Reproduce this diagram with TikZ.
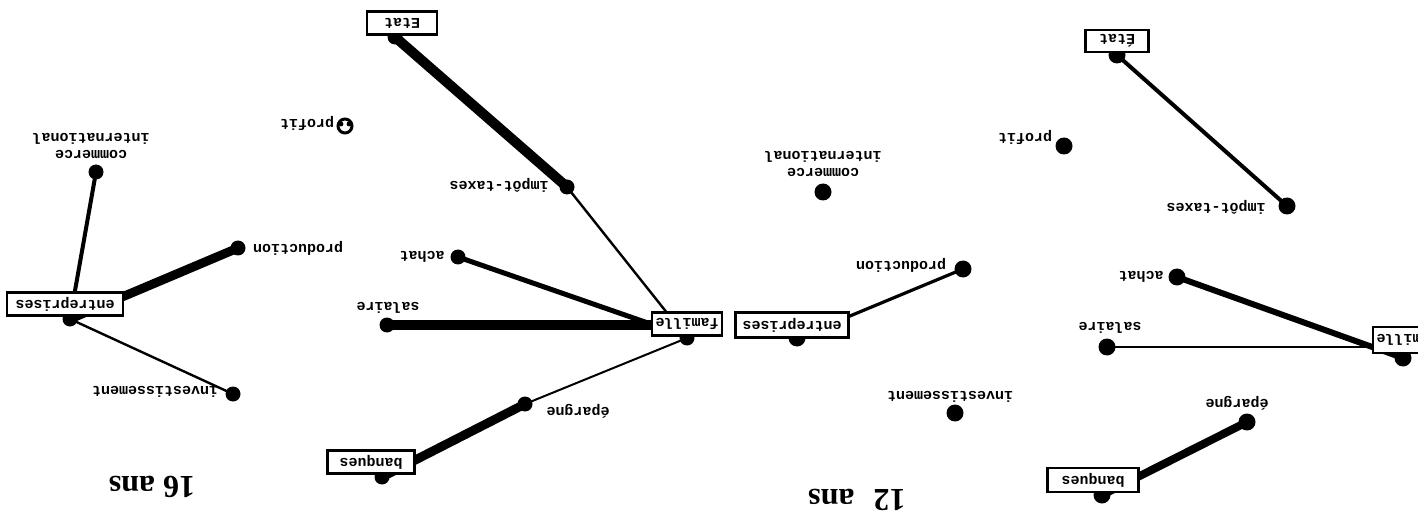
\documentclass[tikz,border=0pt]{standalone}
\usepackage{fontspec}
\setmainfont{Liberation Serif}
\setmonofont{Liberation Mono}
\usepackage{graphicx}
\usetikzlibrary{backgrounds}
\begin{document}
\begin{tikzpicture}[x=0.5pt,y=-0.5pt,
  dot/.style={circle,fill=black,inner sep=0pt,minimum size=7.5pt},
  bigdot/.style={circle,fill=black,inner sep=0pt,minimum size=8.5pt},
  box/.style={draw,line width=1.2pt,fill=white,inner sep=0pt,minimum height=11.5pt,
    font=\ttfamily\bfseries\fontsize{7.5}{8}\selectfont},
  lab/.style={rotate=180,inner sep=0pt,align=center,
    font=\ttfamily\bfseries\fontsize{7.5}{8.5}\selectfont},
  agelabel/.style={rotate=180,inner sep=0pt,font=\bfseries\fontsize{16}{17}\selectfont},
  link/.style={line width=#1},
]
\useasboundingbox (0,0) rectangle (1418,529);
\clip (0,0) rectangle (1418,529);

% ---------------- 16 ans ----------------
\node[dot] (etatDa) at (395,37) {};
\node[dot] (impDa)  at (567,187) {};
\node[dot] (achDa)  at (458,257) {};
\node[dot] (salDa)  at (387,325) {};
\node[dot] (famDa)  at (687,338) {};
\node[dot] (epDa)   at (525,404) {};
\node[dot] (banDa)  at (382,477) {};
\node[dot] (entDa)  at (70,319) {};
\node[dot] (comDa)  at (96,172) {};
\node[dot] (prodDa) at (238,248) {};
\node[dot] (invDa)  at (233,394) {};
\node[circle,draw,line width=1.5pt,minimum size=7pt,inner sep=0pt] (profDa) at (345,126) {};
\fill (341,124) circle (1.2pt) (349,124) circle (1.2pt);

\node[box,minimum width=35pt]   (etatA) at (402,23)  {\rotatebox{180}{Etat}};
\node[box,minimum width=35pt]   (famA)  at (687,324) {\rotatebox{180}{famille}};
\node[box,minimum width=43.5pt] (banA)  at (371,462) {\rotatebox{180}{banques}};
\node[box,minimum width=58pt]   (entA)  at (65,304)  {\rotatebox{180}{entreprises}};

\begin{scope}[on background layer]
\draw[link=5pt]   (etatDa.center) -- (impDa.center);
\draw[link=1.2pt] (impDa.center) -- (famDa.center);
\draw[link=2.5pt] (achDa.center) -- (famA.west);
\draw[link=5pt]   (salDa.center) -- (salDa -| famA.west);
\draw[link=1pt]   (famDa.center) -- (epDa.center);
\draw[link=4.5pt] (epDa.center) -- (banDa.center);
\draw[link=2pt]   (comDa.center) -- (entDa.center);
\draw[link=4.5pt] (prodDa.center) -- (entDa.center);
\draw[link=1.2pt] (invDa.center) -- (entDa.center);
\end{scope}

\node[lab] (impLa)  at (499,185) {impôt-taxes};
\node[lab] (achLa)  at (422,257) {achat};
\node[lab] (salLa)  at (388,308) {salaire};
\node[lab] (epLa)   at (578,411) {épargne};
\node[lab] (comLa)  at (91,146)  {commerce\\international};
\node[lab] (prodLa) at (298,248) {production};
\node[lab] (invLa)  at (155,392) {investissement};
\node[lab] (profLa) at (307,123) {profit};
\node[agelabel] (ageA) at (152,487) {16 ans};

% ---------------- 12 ans ----------------
\node[bigdot] (entDb)  at (797,338) {};
\node[bigdot] (prodDb) at (963,269) {};
\node[bigdot] (comDb)  at (823,192) {};
\node[bigdot] (profDb) at (1064,146) {};
\node[bigdot] (invDb)  at (955,413) {};

\node[box,minimum width=56.5pt,minimum height=12.5pt] (entB) at (792,325) {\rotatebox{180}{entreprises}};

\begin{scope}[on background layer]
\draw[link=1.6pt] (prodDb.center) -- (entDb.center);
\end{scope}

\node[lab] (prodLb) at (901,265)  {production};
\node[lab] (comLb)  at (823,164)  {commerce\\international};
\node[lab] (profLb) at (1025,137) {profit};
\node[lab] (invLb)  at (950,397)  {investissement};
\node[agelabel] (ageB) at (857,500) {12\hspace{0.6em}ans};

\node[bigdot] (etatDc) at (1117,55) {};
\node[bigdot] (impDc)  at (1287,206) {};
\node[bigdot] (achDc)  at (1177,277) {};
\node[bigdot] (salDc)  at (1107,347) {};
\node[bigdot] (famDc)  at (1403,358) {};
\node[bigdot] (epDc)   at (1247,422) {};
\node[bigdot] (banDc)  at (1102,495) {};

\node[box,minimum width=31.5pt,minimum height=11pt] (etatC) at (1117,41)  {\rotatebox{180}{État}};
\node[box,minimum width=35pt,minimum height=13pt]   (famC)  at (1408,340) {\rotatebox{180}{famille}};
\node[box,minimum width=45.5pt,minimum height=12pt] (banC)  at (1093,480) {\rotatebox{180}{banques}};

\begin{scope}[on background layer]
\draw[link=2pt]   (etatDc.center) -- (impDc.center);
\draw[link=3pt]   (achDc.center) -- (famDc.center);
\draw[link=1.2pt] (salDc.center) -- (salDc -| famC.west);
\draw[link=4pt]   (epDc.center) -- (banDc.center);
\end{scope}

\node[lab] (impLc) at (1216,207) {impôt-taxes};
\node[lab] (achLc) at (1141,277) {achat};
\node[lab] (salLc) at (1110,328) {salaire};
\node[lab] (epLc)  at (1237,403) {épargne};
\end{tikzpicture}
\end{document}
